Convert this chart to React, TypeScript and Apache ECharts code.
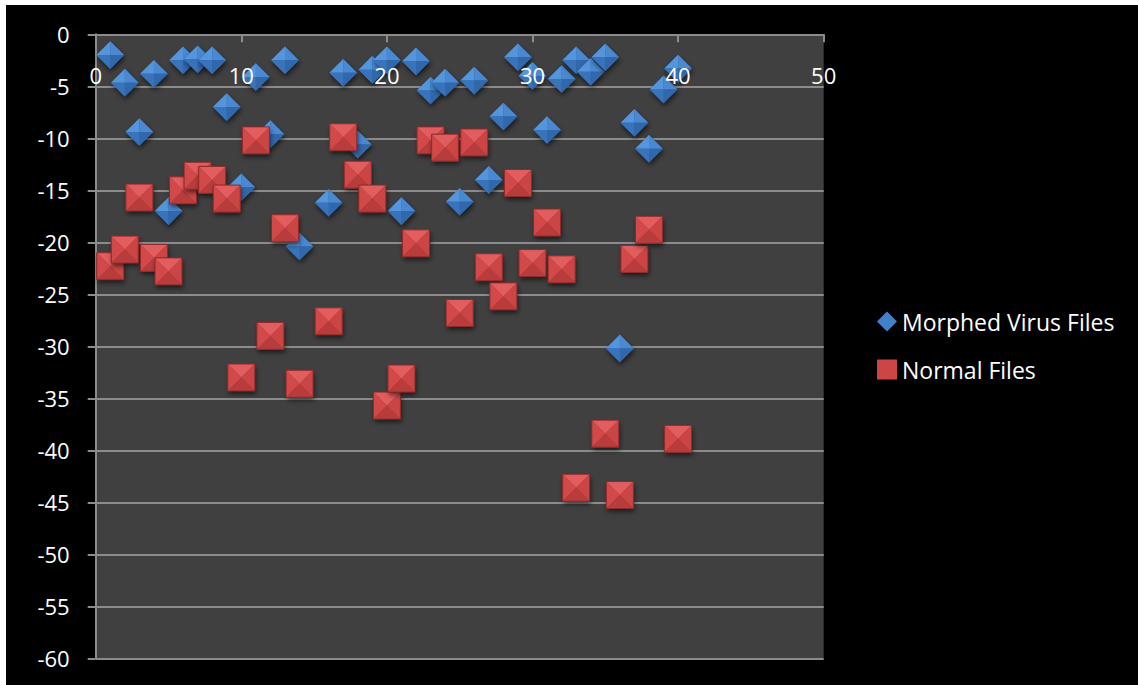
import React, { useEffect, useRef } from "react";
import * as echarts from "echarts";

const seriesNames = ["Morphed Virus Files", "Normal Files"];

const virusX = [1, 2, 3, 4, 5, 6, 7, 8, 9, 10, 11, 12, 13, 14, 16, 17, 18, 19, 20, 21, 22, 23, 24, 25, 26, 27, 28, 29, 30, 31, 32, 33, 34, 35, 36, 37, 38, 39, 40];
const virusY = [-2.0, -4.65, -9.4, -3.8, -17.0, -2.5, -2.4, -2.5, -7.0, -14.7, -4.1, -9.6, -2.5, -20.4, -16.2, -3.7, -10.6, -3.4, -2.5, -17.0, -2.6, -5.4, -4.65, -16.1, -4.45, -14.0, -7.9, -2.2, -4.0, -9.2, -4.3, -2.5, -3.6, -2.2, -30.2, -8.5, -11.0, -5.3, -3.3];

const normalX = [1, 2, 3, 4, 5, 6, 7, 8, 9, 10, 11, 12, 13, 14, 16, 17, 18, 19, 20, 21, 22, 23, 24, 25, 26, 27, 28, 29, 30, 31, 32, 33, 35, 36, 37, 38, 40];
const normalY = [-22.3, -20.7, -15.7, -21.5, -22.8, -15.0, -13.6, -14.0, -15.8, -33.0, -10.2, -29.0, -18.65, -33.6, -27.6, -9.9, -13.5, -15.8, -35.7, -33.1, -20.1, -10.2, -10.9, -26.8, -10.4, -22.4, -25.2, -14.3, -22.0, -18.1, -22.6, -43.6, -38.4, -44.3, -21.6, -18.8, -38.9];

const FONT = "Open Sans";

function diamondItem(params: any, api: any) {
  const [cx, cy] = api.coord([api.value(0), api.value(1)]);
  const h = 13.8;
  const T = [cx, cy - h], R = [cx + h, cy], B = [cx, cy + h], L = [cx - h, cy], C = [cx, cy];
  return {
    type: "group",
    children: [
      { type: "polygon", shape: { points: [T, R, B, L] }, style: { fill: "#2b5f9e", shadowBlur: 5, shadowColor: "rgba(0,0,0,0.6)", shadowOffsetX: 1, shadowOffsetY: 3 } },
      { type: "polygon", shape: { points: [L, T, C] }, style: { fill: "#5595dc" } },
      { type: "polygon", shape: { points: [T, R, C] }, style: { fill: "#4a88d2" } },
      { type: "polygon", shape: { points: [R, B, C] }, style: { fill: "#3168ac" } },
      { type: "polygon", shape: { points: [B, L, C] }, style: { fill: "#3873bb" } },
    ],
  };
}

function squareItem(params: any, api: any) {
  const [cx, cy] = api.coord([api.value(0), api.value(1)]);
  const s = 13.5;
  const TL = [cx - s, cy - s], TR = [cx + s, cy - s], BR = [cx + s, cy + s], BL = [cx - s, cy + s], C = [cx, cy];
  return {
    type: "group",
    children: [
      { type: "rect", shape: { x: cx - s, y: cy - s, width: 2 * s, height: 2 * s }, style: { fill: "#9a3030", shadowBlur: 5, shadowColor: "rgba(0,0,0,0.6)", shadowOffsetX: 1, shadowOffsetY: 3 } },
      { type: "polygon", shape: { points: [TL, TR, C] }, style: { fill: "#e25d5d" } },
      { type: "polygon", shape: { points: [TL, BL, C] }, style: { fill: "#d34949" } },
      { type: "polygon", shape: { points: [TR, BR, C] }, style: { fill: "#cc4545" } },
      { type: "polygon", shape: { points: [BL, BR, C] }, style: { fill: "#b83c3c" } },
      { type: "rect", shape: { x: cx - s, y: cy - s, width: 2 * s, height: 2 * s }, style: { fill: "none", stroke: "#8f2b2b", lineWidth: 1 } },
    ],
  };
}

export default function App() {
  const ref = useRef<HTMLDivElement>(null);
  useEffect(() => {
    const chart = echarts.init(ref.current!, null, { renderer: "svg" });
    const option: any = {
      animation: false,
      backgroundColor: "#000000",
      grid: { left: 89.7, top: 29.3, right: 314.3, bottom: 26.7, show: true, backgroundColor: "#404040", borderWidth: 0 },
      legend: {
        orient: "vertical",
        left: 866,
        top: 300,
        itemWidth: 20,
        itemHeight: 20,
        itemGap: 25,
        textStyle: { color: "#ffffff", fontSize: 23, fontFamily: FONT },
        data: [
          { name: seriesNames[0], icon: "diamond" },
          { name: seriesNames[1], icon: "rect" },
        ],
      },
      xAxis: {
        type: "value",
        position: "top",
        min: 0,
        max: 50,
        interval: 10,
        zlevel: 1,
        z: 10,
        axisLine: { show: true, onZero: false, lineStyle: { color: "#8c8c8c", width: 2 } },
        axisTick: { show: true, inside: true, length: 8, lineStyle: { color: "#8c8c8c", width: 2 } },
        axisLabel: { inside: true, margin: 30, color: "#ffffff", fontSize: 22, fontFamily: FONT, showMinLabel: true, showMaxLabel: true },
        splitLine: { show: false },
      },
      yAxis: {
        type: "value",
        min: -60,
        max: 0,
        interval: 5,
        axisLine: { show: true, onZero: false, lineStyle: { color: "#8c8c8c", width: 2 } },
        axisTick: { show: true, inside: false, length: 8, lineStyle: { color: "#8c8c8c", width: 2 } },
        axisLabel: { margin: 26, color: "#ffffff", fontSize: 22, fontFamily: FONT },
        splitLine: { show: true, lineStyle: { color: "#8c8c8c", width: 2 } },
      },
      series: [
        {
          name: seriesNames[0],
          type: "custom",
          z: 2,
          renderItem: diamondItem,
          itemStyle: { color: "#4181cc" },
          encode: { x: 0, y: 1 },
          data: virusX.map((x, i) => [x, virusY[i]]),
        },
        {
          name: seriesNames[1],
          type: "custom",
          z: 2,
          renderItem: squareItem,
          itemStyle: { color: "#cc4646" },
          encode: { x: 0, y: 1 },
          data: normalX.map((x, i) => [x, normalY[i]]),
        },
      ],
    };
    chart.setOption(option);
    return () => chart.dispose();
  }, []);
  return (
    <div style={{ position: "absolute", left: 0, top: 0, width: 1138, height: 685, background: "#ffffff" }}>
      <div ref={ref} style={{ position: "absolute", left: 6, top: 5, width: 1132, height: 680 }} />
    </div>
  );
}
